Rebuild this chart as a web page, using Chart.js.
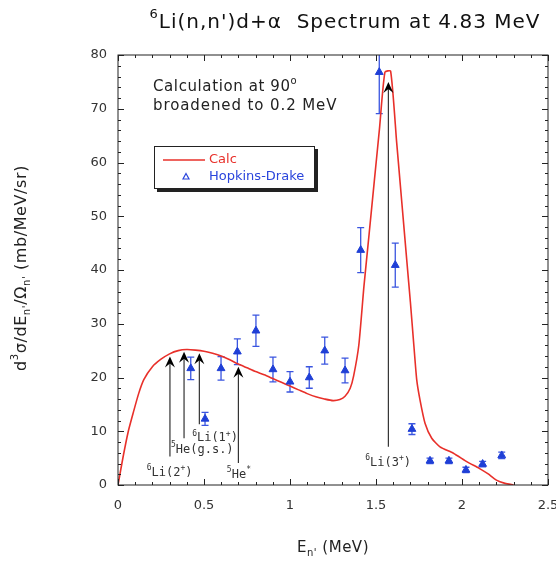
<!DOCTYPE html>
<html>
<head>
<meta charset="utf-8">
<script src="https://cdn.jsdelivr.net/npm/chart.js@4.4.1/dist/chart.umd.min.js"></script>
<style>
  html, body { margin: 0; padding: 0; background: #fff; }
  #wrap { width: 556px; height: 564px; }
</style>
</head>
<body>
<div id="wrap"><canvas id="chart" width="556" height="564"></canvas></div>
<script>
// Calculation curve (broadened to 0.2 MeV)
const calcE = [0, 0.03, 0.06, 0.09, 0.12, 0.15, 0.2, 0.25, 0.3, 0.35, 0.4, 0.45, 0.5, 0.55, 0.6, 0.65, 0.7, 0.75, 0.8, 0.85, 0.9, 0.95, 1.0, 1.05, 1.1, 1.15, 1.2, 1.25, 1.29, 1.32, 1.35, 1.37, 1.4, 1.43, 1.46, 1.49, 1.52, 1.552, 1.585, 1.62, 1.65, 1.68, 1.7, 1.72, 1.737, 1.756, 1.785, 1.824, 1.872, 1.95, 2.03, 2.1, 2.15, 2.2, 2.25, 2.3];
const calcY = [0, 5.3, 10, 13.6, 17, 19.6, 22, 23.4, 24.4, 25.0, 25.2, 25.1, 24.9, 24.5, 24.0, 23.3, 22.5, 21.8, 21.1, 20.5, 19.8, 19.1, 18.4, 17.7, 17.0, 16.4, 16.0, 15.7, 15.9, 16.5, 18.0, 20.3, 26, 37, 46.7, 56.5, 66.2, 76.8, 77, 63.8, 52.6, 41.4, 34, 26, 19.5, 15.8, 11.5, 8.7, 7.1, 5.9, 4.3, 3.1, 2.1, 0.9, 0.3, 0];

// Hopkins-Drake data
const hdE = [0.423, 0.506, 0.599, 0.694, 0.802, 0.901, 1.0, 1.112, 1.202, 1.32, 1.411, 1.519, 1.612, 1.709, 1.814, 1.924, 2.023, 2.12, 2.231];
const hdY = [21.7, 12.3, 21.7, 24.8, 28.7, 21.5, 19.2, 20.0, 25.0, 21.3, 43.7, 76.8, 40.9, 10.4, 4.5, 4.5, 2.8, 3.9, 5.5];
const hdErr = [2.1, 1.2, 2.2, 2.4, 2.9, 2.3, 1.9, 2.0, 2.5, 2.3, 4.2, 7.7, 4.1, 1.0, 0.5, 0.5, 0.5, 0.5, 0.6];

// axis ticks
const xTicks = [0, 0.5, 1, 1.5, 2, 2.5];
const xTickLabels = ['0', '0.5', '1', '1.5', '2', '2.5'];
const yTicks = [0, 10, 20, 30, 40, 50, 60, 70, 80];

// level arrows: position, arrow base, arrow tip
const arrowE = [0.302, 0.384, 0.473, 0.70, 1.572];
const arrowBase = [5.3, 8.7, 11.3, 4.1, 7.1];
const arrowTip = [23.9, 24.8, 24.5, 22.0, 75.0];
const levelLabels = [
    [['6', 'sup'], ['Li(2', ''], ['+', 'sup'], [')', '']],
    [['5', 'sup'], ['He(g.s.)', '']],
    [['6', 'sup'], ['Li(1', ''], ['+', 'sup'], [')', '']],
    [['5', 'sup'], ['He', ''], ['*', 'sup']],
    [['6', 'sup'], ['Li(3', ''], ['+', 'sup'], [')', '']]
];
const levelLabelE = [0.30, 0.49, 0.564, 0.703, 1.57];
const levelLabelY = [2.2, 6.5, 8.7, 1.9, 4.1];

const FONT = '"DejaVu Sans", "Liberation Sans", sans-serif';
const MONO = '"DejaVu Sans Mono", monospace';

// draw a row of text pieces, with super/subscripts
function richWidth(ctx, parts, size, family) {
    let w = 0;
    parts.forEach(p => {
        ctx.font = (p[1] ? Math.round(size * 0.65) : size) + 'px ' + family;
        w += ctx.measureText(p[0]).width;
    });
    return w;
}
function drawRich(ctx, parts, x, y, size, family, align, spacing) {
    ctx.letterSpacing = (spacing || 0) + 'px';
    let w = richWidth(ctx, parts, size, family);
    let cx = align === 'center' ? x - w / 2 : x;
    ctx.textAlign = 'left';
    ctx.textBaseline = 'middle';
    parts.forEach(p => {
        let dy = 0;
        if (p[1] === 'sup') dy = -size * 0.4;
        if (p[1] === 'sub') dy = size * 0.35;
        ctx.font = (p[1] ? Math.round(size * 0.65) : size) + 'px ' + family;
        ctx.fillText(p[0], cx, y + dy);
        cx += ctx.measureText(p[0]).width;
    });
    ctx.letterSpacing = '0px';
}

const errorBars = {
    id: 'errorBars',
    beforeDatasetsDraw(chart) {
        const ctx = chart.ctx, xs = chart.scales.x, ys = chart.scales.y, a = chart.chartArea;
        ctx.save();
        ctx.beginPath();
        ctx.rect(a.left, a.top, a.right - a.left, a.bottom - a.top);
        ctx.clip();
        ctx.strokeStyle = '#3a55e0';
        ctx.lineWidth = 1.3;
        hdE.forEach((e, i) => {
            const px = xs.getPixelForValue(e);
            const top = ys.getPixelForValue(hdY[i] + hdErr[i]);
            const bot = ys.getPixelForValue(hdY[i] - hdErr[i]);
            ctx.beginPath();
            ctx.moveTo(px, top); ctx.lineTo(px, bot);
            ctx.moveTo(px - 3.5, top); ctx.lineTo(px + 3.5, top);
            ctx.moveTo(px - 3.5, bot); ctx.lineTo(px + 3.5, bot);
            ctx.stroke();
        });
        ctx.restore();
    }
};

const decorations = {
    id: 'decorations',
    afterDraw(chart) {
        const ctx = chart.ctx, xs = chart.scales.x, ys = chart.scales.y, a = chart.chartArea;
        ctx.save();

        // level arrows
        arrowE.forEach((e, i) => {
            const px = xs.getPixelForValue(e);
            const yb = ys.getPixelForValue(arrowBase[i]);
            const yt = ys.getPixelForValue(arrowTip[i]);
            ctx.strokeStyle = '#333';
            ctx.lineWidth = 1.2;
            ctx.beginPath();
            ctx.moveTo(px, yb); ctx.lineTo(px, yt + 4);
            ctx.stroke();
            ctx.fillStyle = '#000';
            ctx.beginPath();
            ctx.moveTo(px, yt);
            ctx.lineTo(px - 5, yt + 11);
            ctx.lineTo(px, yt + 7);
            ctx.lineTo(px + 5, yt + 11);
            ctx.closePath();
            ctx.fill();
        });
        ctx.fillStyle = '#333';
        levelLabels.forEach((parts, i) => {
            drawRich(ctx, parts, xs.getPixelForValue(levelLabelE[i]), ys.getPixelForValue(levelLabelY[i]), 12, MONO, 'center');
        });

        // frame
        ctx.strokeStyle = '#222';
        ctx.lineWidth = 1;
        ctx.strokeRect(a.left, a.top, a.right - a.left, a.bottom - a.top);

        // inward ticks
        ctx.beginPath();
        for (let v = 0; v <= 2.5001; v += 0.1) {
            const px = Math.round(xs.getPixelForValue(v)) + 0.5;
            const major = Math.abs(v * 2 - Math.round(v * 2)) < 1e-6;
            const len = major ? 6 : 3;
            ctx.moveTo(px, a.bottom); ctx.lineTo(px, a.bottom - len);
            ctx.moveTo(px, a.top); ctx.lineTo(px, a.top + len);
        }
        for (let v = 0; v <= 80; v += 2) {
            const py = Math.round(ys.getPixelForValue(v)) + 0.5;
            const len = v % 10 === 0 ? 6 : 3;
            ctx.moveTo(a.left, py); ctx.lineTo(a.left + len, py);
            ctx.moveTo(a.right, py); ctx.lineTo(a.right - len, py);
        }
        ctx.stroke();

        // tick labels
        ctx.fillStyle = '#333';
        ctx.font = '13px ' + FONT;
        ctx.textAlign = 'center';
        ctx.textBaseline = 'middle';
        xTicks.forEach((v, i) => ctx.fillText(xTickLabels[i], xs.getPixelForValue(v), a.bottom + 21));
        ctx.textAlign = 'right';
        yTicks.forEach(v => ctx.fillText(String(v), a.left - 11, ys.getPixelForValue(v)));

        // title
        ctx.fillStyle = '#111';
        drawRich(ctx, [['6', 'sup'], ["Li(n,n')d+\u03b1  Spectrum at 4.83 MeV", '']], 345, 23, 20, FONT, 'center', 1);

        // axis titles
        ctx.fillStyle = '#222';
        drawRich(ctx, [['E', ''], ["n'", 'sub'], [' (MeV)', '']], 333, 548, 15, FONT, 'center', 0.5);
        ctx.save();
        ctx.translate(22, 268);
        ctx.rotate(-Math.PI / 2);
        drawRich(ctx, [['d', ''], ['3', 'sup'], ['\u03c3/dE', ''], ["n'", 'sub'], ['/\u03a9', ''], ["n'", 'sub'], [' (mb/MeV/sr)', '']], 0, 0, 16, FONT, 'center', 0.6);
        ctx.restore();

        // note
        ctx.fillStyle = '#222';
        drawRich(ctx, [['Calculation at 90', ''], ['o', 'sup']], 153, 87, 15, FONT, 'left', 0.6);
        drawRich(ctx, [['broadened to 0.2 MeV', '']], 153, 106, 15, FONT, 'left', 0.9);

        // legend box with shadow
        ctx.fillStyle = '#222';
        ctx.fillRect(157, 149, 161, 43);
        ctx.fillStyle = '#fff';
        ctx.fillRect(154, 146, 161, 43);
        ctx.strokeStyle = '#222';
        ctx.strokeRect(154.5, 146.5, 160, 42);
        ctx.strokeStyle = '#e8302a';
        ctx.lineWidth = 1.5;
        ctx.beginPath();
        ctx.moveTo(163, 160); ctx.lineTo(205, 160);
        ctx.stroke();
        ctx.fillStyle = '#e8302a';
        ctx.font = '13px ' + FONT;
        ctx.textAlign = 'left';
        ctx.textBaseline = 'middle';
        ctx.fillText('Calc', 209, 160);
        ctx.fillStyle = '#2a45dc';
        ctx.fillText('Hopkins-Drake', 209, 177);
        ctx.beginPath();
        ctx.moveTo(186, 173.5); ctx.lineTo(189, 179); ctx.lineTo(183, 179); ctx.closePath();
        ctx.strokeStyle = '#2a45dc';
        ctx.lineWidth = 1.2;
        ctx.stroke();

        ctx.restore();
    }
};

new Chart(document.getElementById('chart'), {
    data: {
        datasets: [{
            type: 'scatter',
            label: 'Hopkins-Drake',
            data: hdE.map((e, i) => ({ x: e, y: hdY[i] })),
            pointStyle: 'triangle',
            pointRadius: 4.5,
            backgroundColor: '#1f3fd6',
            borderColor: '#1f3fd6',
            borderWidth: 1
        }, {
            type: 'line',
            label: 'Calc',
            data: calcE.map((e, i) => ({ x: e, y: calcY[i] })),
            borderColor: '#e8302a',
            borderWidth: 1.6,
            pointRadius: 0,
            tension: 0.2,
            fill: false
        }]
    },
    options: {
        responsive: false,
        animation: false,
        layout: { padding: { left: 118, right: 8, top: 55, bottom: 79 } },
        plugins: { legend: { display: false }, tooltip: { enabled: false } },
        scales: {
            x: { type: 'linear', min: 0, max: 2.5, display: false },
            y: { type: 'linear', min: 0, max: 80, display: false }
        }
    },
    plugins: [errorBars, decorations]
});
</script>
</body>
</html>
